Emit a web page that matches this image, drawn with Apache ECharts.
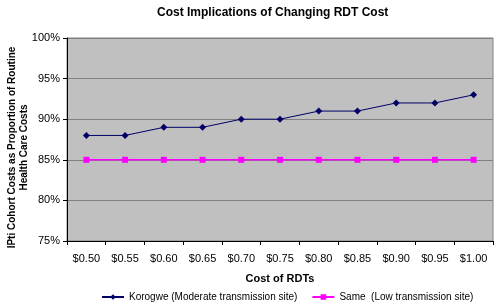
<!DOCTYPE html>
<html>
<head>
<meta charset="utf-8">
<script src="https://cdn.jsdelivr.net/npm/echarts@6/dist/echarts.min.js"></script>
<style>html,body{margin:0;padding:0;background:#fff}#chart{width:498px;height:307px}</style>
</head>
<body>
<div id="chart"></div>
<script>
var costs = ['$0.50', '$0.55', '$0.60', '$0.65', '$0.70', '$0.75', '$0.80', '$0.85', '$0.90', '$0.95', '$1.00'];
var korogwe = [88, 88, 89, 89, 90, 90, 91, 91, 92, 92, 93];
var same = [85, 85, 85, 85, 85, 85, 85, 85, 85, 85, 85];

var myChart = echarts.init(document.getElementById('chart'));
var option = {
	backgroundColor: '#fff',
	textStyle: { fontFamily: 'Liberation Sans, Arial, sans-serif' },
	title: {
		text: 'Cost Implications of Changing RDT Cost',
		left: 152,
		top: 2,
		textStyle: { fontSize: 12, fontWeight: 'bold', color: '#000' }
	},
	legend: {
		bottom: 0,
		left: 96,
		width: 400,
		itemGap: 14,
		itemWidth: 22,
		itemHeight: 7,
		textStyle: { fontSize: 10, color: '#000' },
		data: ['Korogwe (Moderate transmission site)', 'Same  (Low transmission site)']
	},
	grid: {
		left: 67, right: 5, top: 38, bottom: 66,
		containLabel: false,
		outerBoundsMode: 'none',
		show: true, backgroundColor: '#c0c0c0', borderColor: '#808080', borderWidth: 1
	},
	xAxis: {
		type: 'category',
		data: costs,
		boundaryGap: true,
		name: 'Cost of RDTs',
		nameLocation: 'middle',
		nameGap: 32,
		nameMoveOverlap: false,
		nameTextStyle: { fontSize: 11, fontWeight: 'bold', color: '#000' },
		axisLine: { lineStyle: { color: '#000' } },
		axisTick: { show: true, length: 4, lineStyle: { color: '#000' } },
		axisLabel: { fontSize: 11, color: '#000', margin: 12 }
	},
	yAxis: {
		type: 'value',
		min: 75, max: 100, interval: 5,
		name: 'IPti Cohort Costs as Proportion of Routine\nHealth Care Costs',
		nameLocation: 'middle',
		nameGap: 37,
		nameMoveOverlap: false,
		nameTextStyle: { fontSize: 10, fontWeight: 'bold', color: '#000', lineHeight: 12, padding: [0, 16, 0, 0] },
		axisLine: { show: true, lineStyle: { color: '#000' } },
		axisTick: { show: true, length: 4, lineStyle: { color: '#000' } },
		axisLabel: { fontSize: 11, color: '#000', formatter: '{value}%', margin: 7 },
		splitLine: { lineStyle: { color: '#808080', width: 1 } }
	},
	series: [{
		name: 'Korogwe (Moderate transmission site)',
		type: 'line',
		data: korogwe,
		symbol: 'diamond',
		symbolSize: 7,
		color: '#000066',
		lineStyle: { width: 1, color: '#000066' },
		itemStyle: { color: '#000066' }
	}, {
		name: 'Same  (Low transmission site)',
		type: 'line',
		data: same,
		symbol: 'rect',
		symbolSize: 6,
		color: '#ff00ff',
		lineStyle: { width: 1.5, color: '#ff00ff' },
		itemStyle: { color: '#ff00ff' }
	}]
};
myChart.setOption(option);
</script>
</body>
</html>
